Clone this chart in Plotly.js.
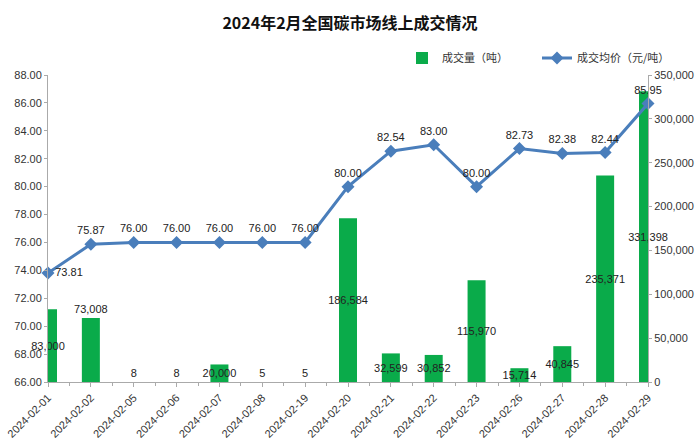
<!DOCTYPE html>
<html><head><meta charset="utf-8">
<script src="https://cdn.plot.ly/plotly-3.0.1.min.js"></script>
<style>html,body{margin:0;padding:0;background:#fff}#c{width:700px;height:443px}</style>
</head><body><div id="c"></div>
<script>
const dates = ["2024-02-01","2024-02-02","2024-02-05","2024-02-06","2024-02-07","2024-02-08","2024-02-19","2024-02-20","2024-02-21","2024-02-22","2024-02-23","2024-02-26","2024-02-27","2024-02-28","2024-02-29"];
const volume = [83000,73008,8,8,20000,5,5,186584,32599,30852,115970,15714,40845,235371,331398];
const price = [73.81,75.87,76.00,76.00,76.00,76.00,76.00,80.00,82.54,83.00,80.00,82.73,82.38,82.44,85.95];
const volLabelPos = ["inside","outside","outside","outside","inside","outside","outside","inside","inside","inside","inside","inside","inside","inside","inside"];
const priceLabelPos = ["middle right","top center","top center","top center","top center","top center","top center","top center","top center","top center","top center","top center","top center","top center","top center"];

const idx = dates.map((d,i)=>i);
const numFont = "Liberation Sans, Arial, sans-serif";
const cjkFont = "Noto Sans CJK SC, sans-serif";

const traces = [
  {type:"bar", name:"成交量（吨）", x:idx, y:volume, yaxis:"y", width:0.42,
   marker:{color:"#0aab4a"},
   texttemplate:"%{y:,}", textposition:volLabelPos, insidetextanchor:"middle", textangle:0,
   constraintext:"none", cliponaxis:false,
   insidetextfont:{family:numFont,size:11,color:"#222"},
   outsidetextfont:{family:numFont,size:11,color:"#222"},
   hoverinfo:"skip"},
  {type:"scatter", mode:"lines+markers+text", name:"成交均价（元/吨）", x:idx, y:price, yaxis:"y2",
   line:{color:"#4a7ebb",width:3}, marker:{symbol:"diamond",size:10,color:"#4a7ebb"},
   texttemplate:"%{y:.2f}", textposition:priceLabelPos, cliponaxis:false,
   textfont:{family:numFont,size:11,color:"#222"}, hoverinfo:"skip"}
];

const layout = {
  width:700, height:443,
  margin:{l:48,r:52,t:75,b:61,autoexpand:false},
  paper_bgcolor:"#fff", plot_bgcolor:"#fff",
  showlegend:true,
  title:{text:"<b>2024年2月全国碳市场线上成交情况</b>", x:0.5, xanchor:"center", y:0.948, yanchor:"middle",
         font:{family:cjkFont,size:16,color:"#111"}},
  legend:{orientation:"h", x:0.59, xanchor:"left", y:1.055, yanchor:"middle",
          font:{family:cjkFont,size:11,color:"#333"}, bgcolor:"rgba(0,0,0,0)", itemwidth:30,
          entrywidth:90},
  bargap:0.58,
  xaxis:{range:[0,14], tickvals:idx, ticktext:dates, tickangle:-45, showgrid:false, zeroline:false,
         showline:true, linecolor:"#aaa", linewidth:1, ticks:"outside", ticklen:4, tickcolor:"#aaa",
         minor:{dtick:0.5, ticks:"outside", ticklen:3, tickcolor:"#aaa", showgrid:false},
         tickfont:{family:numFont,size:11,color:"#333"}, fixedrange:true},
  yaxis:{side:"right", range:[0,350000], dtick:50000, tickformat:",", showgrid:false, zeroline:false,
         showline:true, linecolor:"#aaa", linewidth:1, ticks:"outside", ticklen:3, tickcolor:"#aaa",
         tickfont:{family:numFont,size:11,color:"#333"}},
  yaxis2:{side:"left", overlaying:"y", range:[66,88], dtick:2, tickformat:".2f", showgrid:false, zeroline:false,
          showline:true, linecolor:"#aaa", linewidth:1, ticks:"outside", ticklen:3, tickcolor:"#aaa",
          tickfont:{family:numFont,size:11,color:"#333"}}
};
Plotly.newPlot("c", traces, layout, {displayModeBar:false, staticPlot:true});
</script></body></html>
